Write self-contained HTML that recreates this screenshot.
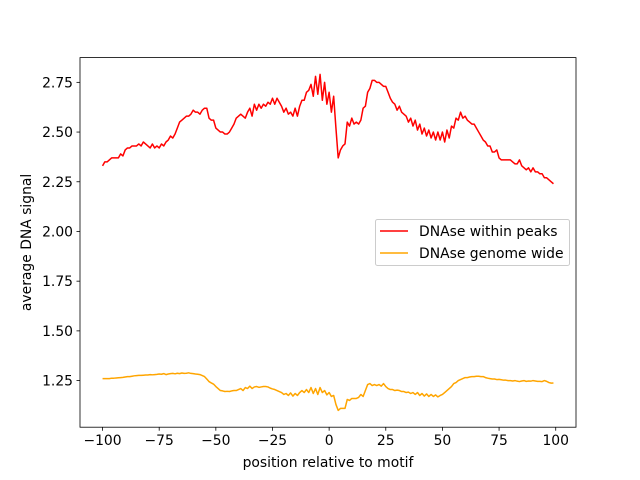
<!DOCTYPE html>
<html><head><meta charset="utf-8"><style>
body{margin:0;background:#fff}
svg{display:block;font-family:"DejaVu Sans","Liberation Sans",sans-serif}
</style></head><body>
<svg id="chart" width="640" height="480">
<rect x="0" y="0" width="640" height="480" fill="#fff"/>
<g id="plot"></g>
</svg>
<script>
const xStart = -100;
const peaksValues = [
2.33,2.35,2.35,2.36,2.37,2.37,2.37,2.37,2.39,2.38,
2.41,2.42,2.42,2.43,2.43,2.43,2.44,2.43,2.45,2.44,
2.43,2.42,2.44,2.42,2.43,2.42,2.44,2.43,2.45,2.46,
2.48,2.47,2.49,2.52,2.55,2.56,2.57,2.58,2.58,2.59,
2.61,2.60,2.60,2.59,2.61,2.62,2.62,2.57,2.56,2.56,
2.52,2.51,2.50,2.50,2.49,2.49,2.50,2.52,2.54,2.57,
2.58,2.59,2.58,2.57,2.60,2.62,2.58,2.64,2.61,2.64,
2.62,2.64,2.63,2.65,2.64,2.67,2.64,2.67,2.65,2.63,
2.60,2.62,2.59,2.60,2.58,2.62,2.58,2.63,2.66,2.66,
2.70,2.71,2.74,2.68,2.78,2.69,2.79,2.66,2.75,2.64,
2.70,2.60,2.68,2.52,2.37,2.41,2.43,2.44,2.55,2.53,
2.57,2.54,2.55,2.54,2.56,2.62,2.63,2.70,2.72,2.76,
2.76,2.75,2.75,2.74,2.73,2.73,2.70,2.67,2.65,2.64,
2.61,2.63,2.60,2.59,2.58,2.55,2.57,2.53,2.56,2.51,
2.54,2.49,2.52,2.48,2.51,2.47,2.50,2.46,2.50,2.46,
2.50,2.45,2.51,2.47,2.53,2.52,2.57,2.56,2.60,2.57,
2.58,2.56,2.55,2.54,2.54,2.52,2.50,2.48,2.46,2.45,
2.43,2.43,2.40,2.40,2.41,2.37,2.36,2.36,2.36,2.36,
2.36,2.35,2.34,2.34,2.36,2.33,2.32,2.31,2.32,2.30,
2.32,2.30,2.30,2.29,2.29,2.27,2.27,2.26,2.25,2.24];
const genomeValues = [
1.26,1.26,1.26,1.26,1.262,1.262,1.263,1.264,1.265,1.266,
1.268,1.27,1.27,1.272,1.274,1.275,1.276,1.276,1.277,1.278,
1.278,1.28,1.279,1.28,1.281,1.283,1.282,1.285,1.28,1.283,
1.285,1.286,1.284,1.287,1.285,1.288,1.286,1.287,1.289,1.286,
1.285,1.283,1.282,1.28,1.275,1.27,1.258,1.245,1.238,1.232,
1.22,1.21,1.20,1.198,1.195,1.196,1.195,1.198,1.2,1.2,
1.205,1.21,1.20,1.215,1.21,1.222,1.21,1.218,1.22,1.216,
1.218,1.22,1.22,1.218,1.212,1.208,1.205,1.20,1.195,1.19,
1.18,1.185,1.175,1.188,1.172,1.185,1.175,1.19,1.2,1.19,
1.205,1.19,1.215,1.185,1.21,1.18,1.215,1.19,1.2,1.178,
1.19,1.17,1.175,1.13,1.10,1.11,1.11,1.11,1.155,1.15,
1.16,1.16,1.16,1.165,1.18,1.17,1.2,1.23,1.235,1.225,
1.23,1.225,1.23,1.222,1.235,1.22,1.21,1.205,1.205,1.20,
1.202,1.20,1.195,1.195,1.19,1.192,1.185,1.19,1.18,1.19,
1.175,1.185,1.172,1.183,1.17,1.18,1.17,1.178,1.168,1.175,
1.18,1.19,1.2,1.21,1.22,1.235,1.24,1.25,1.255,1.26,
1.265,1.265,1.268,1.27,1.27,1.272,1.272,1.27,1.27,1.265,
1.262,1.26,1.258,1.258,1.255,1.256,1.254,1.252,1.252,1.25,
1.25,1.248,1.25,1.247,1.245,1.248,1.25,1.246,1.248,1.247,
1.25,1.248,1.246,1.246,1.245,1.25,1.246,1.24,1.237,1.238];
const xTicks = [-100,-75,-50,-25,0,25,50,75,100];
const yTicks = [1.25,1.50,1.75,2.00,2.25,2.50,2.75];
const seriesNames = ["DNAse within peaks","DNAse genome wide"];

const L=80,R=576,T=57.6,B=427.2,FS='13.9px';
const n=peaksValues.length;
const xmin=xStart-(n-1)*0.05, xmax=xStart+(n-1)*1.05;
const all=peaksValues.concat(genomeValues);
const dmin=Math.min(...all), dmax=Math.max(...all), pad=(dmax-dmin)*0.05;
const ymin=dmin-pad, ymax=dmax+pad;
const sx=v=>L+(v-xmin)/(xmax-xmin)*(R-L);
const sy=v=>B-(v-ymin)/(ymax-ymin)*(B-T);
const NS="http://www.w3.org/2000/svg";
const g=document.getElementById('plot');
function mk(tag,attrs,text){const e=document.createElementNS(NS,tag);for(const k in attrs)e.setAttribute(k,attrs[k]);if(text!==undefined)e.textContent=text;g.appendChild(e);return e;}
function fmtY(v){return v.toFixed(2);}

[[peaksValues,"#ff0000","peaks-line"],[genomeValues,"#ffa500","genome-line"]].forEach(([vals,col,nm])=>{
  const p=mk('polyline',{points:vals.map((v,i)=>sx(xStart+i).toFixed(2)+','+sy(v).toFixed(2)).join(' '),fill:'none',stroke:col,'stroke-width':1.5,'stroke-linejoin':'round'});
  
  
});
const frame=mk('rect',{x:L,y:T,width:R-L,height:B-T,fill:'none',stroke:'#000','stroke-width':0.8});


xTicks.forEach(t=>{
  const x=sx(t);
  mk('line',{x1:x,x2:x,y1:B,y2:B+3.5,stroke:'#000','stroke-width':0.8});
  const lb=mk('text',{x:x,y:B+18,'text-anchor':'middle','font-size':FS,fill:'#000'},String(t).replace('-','\u2212'));
  
  
});
yTicks.forEach(t=>{
  const y=sy(t);
  mk('line',{x1:L-3.5,x2:L,y1:y,y2:y,stroke:'#000','stroke-width':0.8});
  const lb=mk('text',{x:L-7,y:y+5,'text-anchor':'end','font-size':FS,fill:'#000'},fmtY(t));
  
  
});
const xl=mk('text',{x:(L+R)/2,y:467,'text-anchor':'middle','font-size':FS,fill:'#000'},'position relative to motif');


const yl=mk('text',{x:0,y:0,transform:'translate(31,'+((T+B)/2)+') rotate(-90)','text-anchor':'middle','font-size':FS,fill:'#000'},'average DNA signal');


const lg=mk('rect',{x:375.5,y:219.5,width:194,height:46,rx:2,fill:'#fff','fill-opacity':0.8,stroke:'#ccc','stroke-width':1});


["#ff0000","#ffa500"].forEach((c,i)=>{
  const y=231+i*22;
  mk('line',{x1:380,x2:408,y1:y,y2:y,stroke:c,'stroke-width':1.5});
  const t=mk('text',{x:419,y:y+5,'font-size':FS,fill:'#000'},seriesNames[i]);
  
  
});
</script>
</body></html>
